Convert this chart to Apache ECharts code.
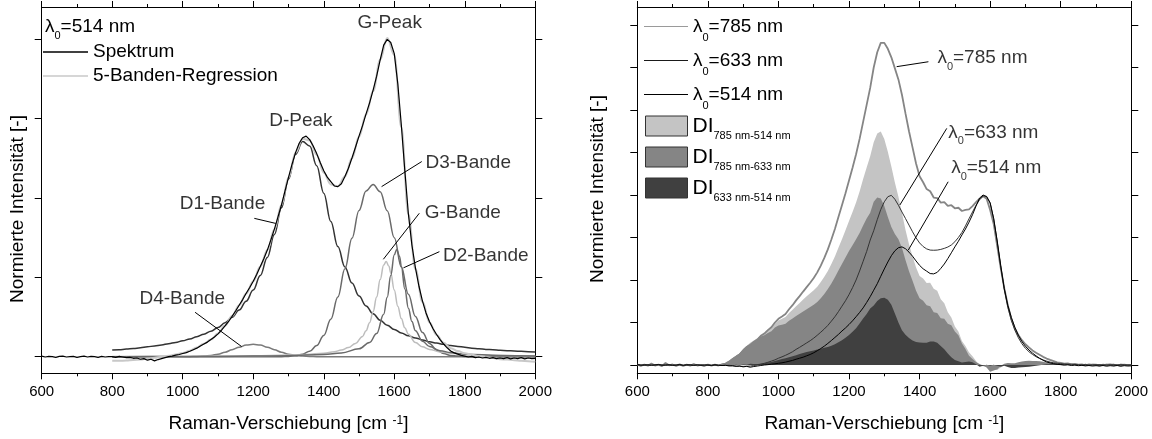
<!DOCTYPE html>
<html><head><meta charset="utf-8">
<script src="https://cdn.jsdelivr.net/npm/echarts/dist/echarts.min.js"></script>
<style>html,body{margin:0;padding:0;background:#fff}#c{width:1152px;height:439px}</style>
</head><body><div id="c"></div>
<script>
// ---------- DATA ----------
// wavenumber grids (cm^-1)
const grid10 = []; for (let w = 600; w <= 2000; w += 10) grid10.push(w);
const grid20 = []; for (let w = 800; w <= 2000; w += 20) grid20.push(w);

// 514 nm spectrum (normalised to G peak), 600..2000 step 10
const spec514 = [
 0.002,-0.001,0.001,0.000,-0.002,0.001,0.002,-0.001,0.000,0.001,-0.002,0.000,0.002,-0.001,0.001,0.000,-0.002,0.001,-0.001,0.000,
 0.000,-0.002,0.001,-0.001,-0.003,-0.002,-0.005,-0.004,-0.008,-0.006,-0.011,-0.008,-0.013,-0.009,-0.006,-0.003,0.000,0.002,0.005,0.007,
 0.010,0.013,0.017,0.022,0.027,0.034,0.040,0.046,0.054,0.062,0.072,0.084,0.097,0.111,0.127,0.144,0.162,0.180,0.200,0.218,
 0.238,0.260,0.284,0.309,0.336,0.368,0.402,0.440,0.478,0.522,0.565,0.606,0.643,0.672,0.690,0.695,0.684,0.664,0.640,0.612,
 0.586,0.566,0.552,0.538,0.536,0.545,0.568,0.594,0.626,0.660,0.695,0.728,0.765,0.800,0.840,0.884,0.935,0.982,1.000,0.990,
 0.955,0.860,0.730,0.585,0.450,0.352,0.280,0.222,0.175,0.138,0.110,0.088,0.070,0.054,0.040,0.028,0.018,0.012,0.008,0.004,
 0.002,-0.001,0.001,-0.003,-0.001,-0.004,-0.002,-0.005,-0.003,-0.006,-0.004,-0.006,-0.003,-0.007,-0.004,-0.006,-0.003,-0.007,-0.004,-0.006,-0.005
];
// 5-band regression, 800..2000 step 20
const regression = [
 -0.013,-0.013,-0.012,-0.010,-0.009,-0.006,-0.003,0.000,0.003,0.007,
 0.012,0.019,0.029,0.041,0.054,0.073,0.098,0.128,0.162,0.199,
 0.238,0.284,0.336,0.402,0.478,0.565,0.643,0.687,0.682,0.636,
 0.580,0.543,0.537,0.568,0.625,0.693,0.763,0.837,0.936,1.004,
 0.951,0.723,0.449,0.276,0.173,0.108,0.068,0.044,0.027,0.018,
 0.011,0.006,0.002,-0.001,-0.004,-0.008,-0.009,-0.011,-0.013,-0.014,-0.016
];
// bands, 800..2000 step 20
const d1Band = [
 0.021,0.022,0.024,0.026,0.028,0.031,0.034,0.037,0.041,0.045,
 0.050,0.056,0.063,0.071,0.080,0.092,0.107,0.124,0.147,0.175,
 0.210,0.256,0.313,0.385,0.469,0.560,0.638,0.678,0.664,0.602,
 0.515,0.426,0.347,0.283,0.232,0.191,0.160,0.135,0.115,0.099,
 0.086,0.075,0.066,0.059,0.053,0.047,0.043,0.039,0.035,0.032,
 0.030,0.027,0.025,0.023,0.022,0.020,0.019,0.018,0.017,0.016,0.015
];
const d3Band = [
 0,0,0,0,0,0,0,0,0,0,
 0,0,0,0,0,0,0,0,0,0,
 0,0,0,0,0.000,0.001,0.003,0.008,0.017,0.035,
 0.067,0.118,0.188,0.277,0.373,0.461,0.522,0.543,0.520,0.460,
 0.375,0.283,0.197,0.127,0.076,0.042,0.021,0.010,0.004,0.002,
 0.001,0,0,0,0,0,0,0,0,0,0
];
const d4Band = [
 0,0,0,0,0,0,0,0,0,0,
 0,0,0.001,0.002,0.004,0.008,0.014,0.022,0.030,0.037,
 0.039,0.037,0.030,0.022,0.014,0.008,0.004,0.002,0.001,0,
 0,0,0,0,0,0,0,0,0,0,
 0,0,0,0,0,0,0,0,0,0,
 0,0,0,0,0,0,0,0,0,0,0
];
const gBandX = [800,900,1000,1100,1200,1300,1350,1400,1430,1450,1470,1490,1510,1520,1530,1540,1550,1560,1570,1577,1585,1590,1600,1610,1620,1630,1640,1660,1680,1700,1730,1760,1800,1900,2000];
const gBandY = [0.001,0.001,0.001,0.002,0.003,0.005,0.007,0.011,0.016,0.021,0.029,0.042,0.064,0.082,0.107,0.142,0.188,0.243,0.289,0.300,0.285,0.264,0.210,0.159,0.120,0.091,0.071,0.045,0.031,0.023,0.015,0.011,0.007,0.004,0.002];
const d2BandX = [800,900,1000,1100,1200,1300,1400,1450,1500,1530,1550,1570,1580,1590,1600,1607,1615,1620,1630,1640,1650,1660,1680,1700,1730,1760,1800,1900,2000];
const d2BandY = [0.000,0.001,0.001,0.001,0.002,0.003,0.007,0.012,0.025,0.045,0.073,0.134,0.187,0.256,0.321,0.338,0.316,0.285,0.213,0.153,0.111,0.082,0.049,0.032,0.019,0.013,0.008,0.004,0.002];

// 633 nm and 785 nm spectra, 600..2000 step 10
const spec633 = [
 0.002,0.000,-0.002,0.001,0.000,-0.001,0.002,0.000,-0.002,0.001,0.000,-0.001,0.001,-0.002,0.000,0.001,-0.001,0.000,-0.002,0.000,
 -0.001,-0.002,0.000,-0.002,-0.003,-0.002,-0.004,-0.005,-0.006,-0.007,-0.008,-0.007,-0.006,-0.003,0.000,0.005,0.010,0.016,0.023,0.030,
 0.040,0.048,0.057,0.067,0.078,0.092,0.104,0.117,0.130,0.143,0.158,0.175,0.193,0.212,0.233,0.258,0.284,0.314,0.346,0.378,
 0.414,0.455,0.500,0.553,0.610,0.668,0.735,0.790,0.855,0.915,0.960,0.990,0.998,0.975,0.940,0.900,0.862,0.823,0.784,0.748,
 0.718,0.697,0.683,0.676,0.675,0.676,0.680,0.686,0.694,0.706,0.725,0.750,0.780,0.818,0.860,0.900,0.940,0.972,0.995,0.992,
 0.950,0.862,0.725,0.575,0.445,0.340,0.262,0.205,0.160,0.125,0.098,0.078,0.062,0.049,0.038,0.030,0.023,0.017,0.013,0.010,
 0.008,0.006,0.005,0.004,0.003,0.002,0.001,0.002,0.000,0.001,0.002,0.000,0.001,0.000,0.002,0.001,0.000,0.001,0.002,0.000,0.001
];
const spec785 = [
 0.004,-0.006,0.003,-0.004,0.008,-0.003,0.002,-0.007,0.012,-0.002,0.003,-0.005,0.004,-0.006,0.002,-0.004,0.005,-0.003,0.001,-0.006,
 0.003,-0.004,0.002,-0.003,0.004,0.008,0.020,0.035,0.048,0.062,0.085,0.105,0.118,0.135,0.150,0.172,0.185,0.205,0.222,0.250,
 0.272,0.285,0.300,0.328,0.352,0.380,0.405,0.432,0.458,0.484,0.512,0.545,0.585,0.630,0.680,0.738,0.800,0.870,0.940,1.010,
 1.085,1.160,1.240,1.330,1.430,1.530,1.630,1.750,1.840,1.895,1.895,1.860,1.810,1.745,1.680,1.590,1.480,1.375,1.280,1.185,
 1.110,1.075,1.035,1.022,0.985,0.982,0.955,0.958,0.936,0.940,0.922,0.925,0.906,0.912,0.915,0.935,0.958,0.978,0.992,0.978,
 0.912,0.830,0.700,0.570,0.452,0.352,0.272,0.215,0.176,0.146,0.122,0.103,0.086,0.072,0.060,0.048,0.038,0.030,0.023,0.016,
 0.012,0.008,0.010,0.004,0.006,0.002,0.004,-0.002,0.003,0.000,0.002,-0.003,0.002,-0.001,0.003,-0.002,0.001,-0.003,0.002,-0.001,0.001
];

// axis ticks / ranges
const xTicksInterval = 200;
const yTicksLeft = [0, 0.25, 0.5, 0.75, 1.0];
const yTicksRight = [0, 0.25, 0.5, 0.75, 1.0, 1.25, 1.5, 1.75, 2.0];
const yRangeLeft = [-0.0523, 1.102];
const yRangeRight = [-0.0488, 2.106];

// annotations (data coordinates)
const annoLText = ['G-Peak','D-Peak','D1-Bande','D3-Bande','G-Bande','D2-Bande','D4-Bande'];
const annoLX = [1587, 1335, 990, 1687, 1685, 1737, 876];
const annoLY = [1.051, 0.744, 0.481, 0.612, 0.454, 0.318, 0.183];
const annoLAlign = ['center','center','left','left','left','left','left'];
const leadL = [[1203,0.436,1264,0.420],[1564,0.536,1678,0.615],[1569,0.307,1671,0.452],[1626,0.280,1728,0.331],[1035,0.140,1167,0.032]];
const annoRText = ['λ{sub|0}=785 nm','λ{sub|0}=633 nm','λ{sub|0}=514 nm'];
const annoRX = [1449, 1480, 1488];
const annoRY = [1.806, 1.365, 1.159];
const leadR = [[1335,1.755,1425,1.784],[1344,0.941,1477,1.392],[1368,0.676,1481,1.078]];

// ---------- CHART ----------
const FONT = '"Liberation Sans", Arial, Helvetica, sans-serif';
const pairs = (xs, ys) => xs.map((x, i) => [x, ys[i]]);
const diff = (a, b) => a.map((v, i) => +(v - b[i]).toFixed(4));
const di785_514 = diff(spec785, spec514);
const di785_633 = diff(spec785, spec633);
const di633_514 = diff(spec633, spec514);

const black = '#000';
function xAx(gi, pos, withLabel) {
  return {
    gridIndex: gi, type: 'value', min: 600, max: 2000, interval: xTicksInterval, position: pos,
    axisLine: { show: true, onZero: false, lineStyle: { color: black, width: 1 } },
    axisTick: { show: true, inside: false, length: 6, lineStyle: { color: black } },
    minorTick: { show: true, splitNumber: 2, length: 3, lineStyle: { color: black } },
    splitLine: { show: false }, minorSplitLine: { show: false },
    axisLabel: { show: withLabel, fontSize: 15, color: black, fontFamily: FONT, margin: 11, formatter: v => String(v) },
    name: withLabel ? 'Raman-Verschiebung [cm {sup|-1}]' : '', nameLocation: 'middle', nameGap: 41,
    nameTextStyle: { fontSize: 19, color: black, fontFamily: FONT,
      rich: { sup: { fontSize: 12, lineHeight: 10, verticalAlign: 'top', fontFamily: FONT, color: black } } }
  };
}
function yAx(gi, pos, range, ticks) {
  return {
    gridIndex: gi, type: 'value', min: range[0], max: range[1], position: pos,
    axisLine: { show: true, onZero: false, lineStyle: { color: black, width: 1 } },
    axisTick: { show: true, inside: false, length: 7, customValues: ticks, lineStyle: { color: black } },
    axisLabel: { show: false }, splitLine: { show: false }
  };
}
function lineS(name, data, color, width, smooth, ai) {
  return { name, type: 'line', xAxisIndex: ai, yAxisIndex: ai, data, symbol: 'none', showSymbol: false,
    smooth: smooth ? 0.4 : false, smoothMonotone: 'x', silent: true,
    itemStyle: { color }, lineStyle: { color, width } };
}
function fillS(name, data, color) {
  return { name, type: 'line', xAxisIndex: 2, yAxisIndex: 2, data, symbol: 'none', showSymbol: false, silent: true,
    itemStyle: { color }, lineStyle: { width: 0, opacity: 0, color },
    areaStyle: { color, opacity: 1, origin: 0 } };
}
function leaders(list, ai) {
  return list.map(l => ({ type: 'line', xAxisIndex: ai, yAxisIndex: ai, data: [[l[0], l[1]], [l[2], l[3]]],
    symbol: 'none', silent: true, z: 9, lineStyle: { color: black, width: 1 } }));
}
function labels(texts, xs, ys, aligns, ai) {
  return { type: 'scatter', xAxisIndex: ai, yAxisIndex: ai, symbolSize: 1, silent: true, z: 10,
    itemStyle: { color: 'rgba(0,0,0,0)' },
    label: { show: true, color: black, fontSize: 19, fontFamily: FONT, lineHeight: 28,
      rich: { sub: { fontSize: 11, lineHeight: 12, verticalAlign: 'bottom', fontFamily: FONT, color: black } } },
    data: texts.map((t, i) => ({ value: [xs[i], ys[i]],
      label: { formatter: t, position: aligns[i] === 'center' ? 'inside' : 'right', distance: 0 } })) };
}

const chart = echarts.init(document.getElementById('c'), null, { renderer: 'canvas' });
chart.setOption({
  animation: false,
  backgroundColor: '#fff',
  textStyle: { fontFamily: FONT },
  grid: [
    { left: 41.7, top: 7, width: 493.6, height: 366.3, containLabel: false },
    { left: 637.3, top: 7, width: 494, height: 366.3, containLabel: false }
  ],
  xAxis: [xAx(0, 'bottom', true), xAx(0, 'top', false), xAx(1, 'bottom', true), xAx(1, 'top', false)],
  yAxis: [yAx(0, 'left', yRangeLeft, yTicksLeft), yAx(0, 'right', yRangeLeft, yTicksLeft),
          yAx(1, 'left', yRangeRight, yTicksRight), yAx(1, 'right', yRangeRight, yTicksRight)],
  legend: [
    { data: [
        { name: 'Spektrum', itemStyle: { color: '#000' } },
        { name: '5-Banden-Regression', itemStyle: { color: '#c8c8c8' } }],
      orient: 'vertical', left: 43, top: 40, padding: 0, itemGap: 0,
      icon: 'rect', itemWidth: 45, itemHeight: 1.6, selectedMode: false,
      textStyle: { fontSize: 19, color: black, fontFamily: FONT, lineHeight: 24 } },
    { data: [
        { name: 'λ0=785 nm', itemStyle: { color: '#9a9a9a' } },
        { name: 'λ0=633 nm', itemStyle: { color: '#1a1a1a' } },
        { name: 'λ0=514 nm', itemStyle: { color: '#000000' } }],
      orient: 'vertical', left: 644, top: 9.5, padding: 0, itemGap: 0,
      icon: 'rect', itemWidth: 44, itemHeight: 1, selectedMode: false,
      formatter: n => n.replace('λ0', 'λ{sub|0}'),
      textStyle: { fontSize: 19, color: black, fontFamily: FONT, lineHeight: 34,
        rich: { sub: { fontSize: 11, lineHeight: 17, verticalAlign: 'bottom', color: black, fontFamily: FONT } } } },
    { data: [
        { name: 'DI_785 nm-514 nm', icon: 'rect', itemStyle: { color: '#c4c4c4', borderColor: '#333', borderWidth: 1 } },
        { name: 'DI_785 nm-633 nm', icon: 'rect', itemStyle: { color: '#858585', borderColor: '#333', borderWidth: 1 } },
        { name: 'DI_633 nm-514 nm', icon: 'rect', itemStyle: { color: '#404040', borderColor: '#333', borderWidth: 1 } }],
      orient: 'vertical', left: 645, top: 110.5, padding: 0, itemGap: 0, itemWidth: 42, itemHeight: 20, selectedMode: false,
      formatter: n => '{di|DI}{sub|' + n.slice(3) + '}',
      textStyle: { fontSize: 21, color: black, fontFamily: FONT, lineHeight: 31,
        rich: { di: { fontSize: 21, lineHeight: 31, color: black, fontFamily: FONT },
                sub: { fontSize: 11, lineHeight: 8, verticalAlign: 'bottom', color: black, fontFamily: FONT } } } }
  ],
  graphic: [
    { type: 'text', x: 18, y: 209, rotation: Math.PI / 2, silent: true,
      style: { text: 'Normierte Intensität [-]', fontSize: 19, fontFamily: FONT, fill: black, align: 'center', verticalAlign: 'middle' } },
    { type: 'text', x: 598, y: 189, rotation: Math.PI / 2, silent: true,
      style: { text: 'Normierte Intensität [-]', fontSize: 19, fontFamily: FONT, fill: black, align: 'center', verticalAlign: 'middle' } },
    { type: 'text', x: 45, y: 27, silent: true,
      style: { text: 'λ{sub|0}=514 nm', fontSize: 19, fontFamily: FONT, fill: black, align: 'left', verticalAlign: 'middle', lineHeight: 28,
        rich: { sub: { fontSize: 11, lineHeight: 12, verticalAlign: 'bottom', fontFamily: FONT, fill: black } } } }
  ],
  series: [
    lineS('D4-Bande', pairs(grid20, d4Band), '#7a7a7a', 1.5, true, 0),
    lineS('D1-Bande', pairs(grid20, d1Band), '#333333', 1.5, true, 0),
    lineS('D3-Bande', pairs(grid20, d3Band), '#6a6a6a', 1.5, true, 0),
    lineS('G-Bande', pairs(gBandX, gBandY), '#bdbdbd', 1.5, true, 0),
    lineS('D2-Bande', pairs(d2BandX, d2BandY), '#6a6a6a', 1.5, true, 0),
    lineS('5-Banden-Regression', pairs(grid20, regression), '#c8c8c8', 2, true, 0),
    lineS('Spektrum', pairs(grid10, spec514), '#000000', 1.2, false, 0),
    ...leaders(leadL, 0),
    labels(annoLText, annoLX, annoLY, annoLAlign, 0),

    fillS('DI_785 nm-514 nm', pairs(grid10, di785_514), '#c4c4c4'),
    fillS('DI_785 nm-633 nm', pairs(grid10, di785_633), '#858585'),
    fillS('DI_633 nm-514 nm', pairs(grid10, di633_514), '#404040'),
    lineS('λ0=785 nm', pairs(grid10, spec785), '#858585', 1.8, false, 2),
    lineS('λ0=633 nm', pairs(grid10, spec633), '#333333', 1, false, 2),
    lineS('λ0=514 nm', pairs(grid10, spec514), '#000000', 1, false, 2),
    ...leaders(leadR, 2),
    labels(annoRText, annoRX, annoRY, ['left','left','left'], 2)
  ]
});
</script></body></html>
